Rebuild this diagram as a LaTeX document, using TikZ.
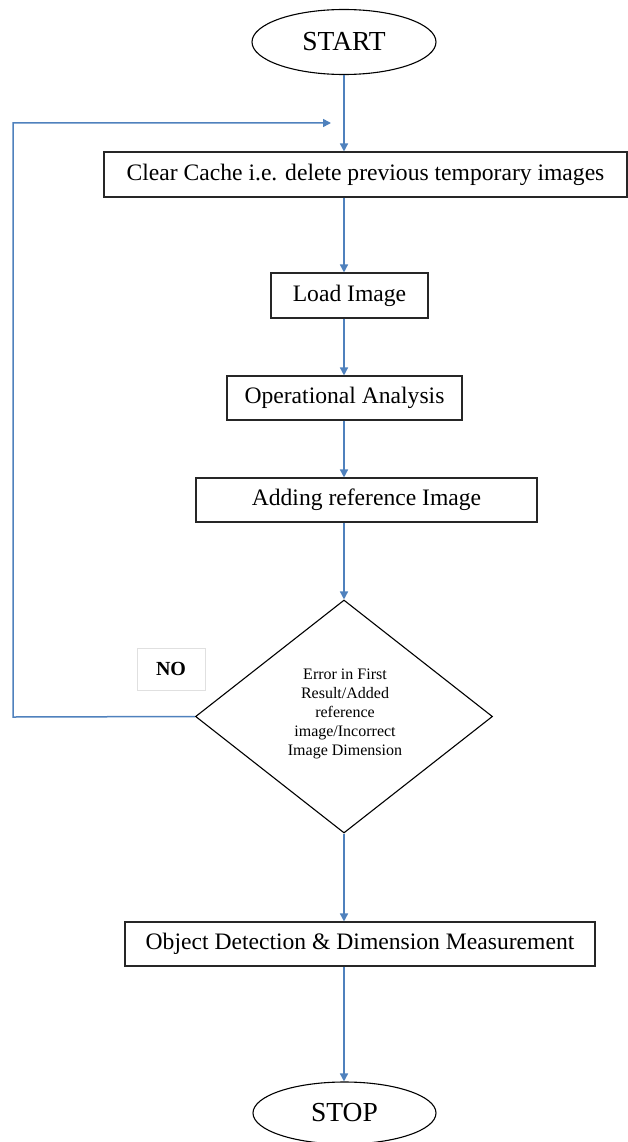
\documentclass[tikz,border=0pt]{standalone}
\usepackage{fontspec}
\setmainfont{Liberation Serif}
\usetikzlibrary{shapes.geometric,arrows.meta}
\definecolor{arrowblue}{HTML}{4F81BD}
\begin{document}
\begin{tikzpicture}[x=1pt,y=-1pt,
  procbox/.style={draw=black!85,line width=1.1pt,inner sep=0pt,font=\fontsize{23.6}{26}\selectfont},
  termnode/.style={draw=black,line width=1.1pt,ellipse,inner sep=0pt,font=\fontsize{27.5}{30}\selectfont},
  flow/.style={draw=arrowblue,line width=1.5pt,-{Triangle[length=8pt,width=8pt]}}]
\useasboundingbox (0,0) rectangle (628,1142);
\node[termnode,minimum width=184pt,minimum height=65pt] (start) at (344,42) {START};
\node[procbox,minimum width=523pt,minimum height=45pt] (clear) at (365.5,174.5) {Clear Cache i.e. delete previous temporary images};
\node[procbox,minimum width=157pt,minimum height=45pt] (load) at (349.5,295.5) {Load Image};
\node[procbox,minimum width=235pt,minimum height=44pt] (oper) at (344.5,398) {Operational Analysis};
\node[procbox,minimum width=341pt,minimum height=44pt] (adding) at (366.5,500) {Adding reference Image};
\node[draw=black,line width=1.1pt,diamond,aspect=1.275,minimum width=297pt,minimum height=233pt,inner sep=0pt] (dec) at (344,716.5) {};
\node[align=center,font=\fontsize{16}{19.2}\selectfont] (dectext) at (345,714) {Error in First\\Result/Added\\reference\\image/Incorrect\\Image Dimension};
\node[draw=black!12,line width=0.8pt,minimum width=68pt,minimum height=42pt,font=\bfseries\fontsize{20}{22}\selectfont] (no) at (171,669) {NO};
\node[procbox,minimum width=470pt,minimum height=44pt] (obj) at (360,944) {Object Detection \& Dimension Measurement};
\node[termnode,minimum width=183pt,minimum height=62pt] (stop) at (344.5,1113) {STOP};
\coordinate (c1) at (13,717);
\coordinate (c2) at (13,123);
\coordinate (c3) at (331,123);
\draw[flow] (start.south) -- (start.south |- clear.north);
\draw[flow] (clear.south -| start.south) -- (start.south |- load.north);
\draw[flow] (load.south -| start.south) -- (start.south |- oper.north);
\draw[flow] (oper.south -| start.south) -- (start.south |- adding.north);
\draw[flow] (adding.south -| start.south) -- (dec.north);
\draw[flow] (dec.south) -- (dec.south |- obj.north);
\draw[flow] (obj.south -| dec.south) -- (dec.south |- stop.north);
\draw[flow] (dec.west) -- (c1) -- (c2) -- (c3);
\end{tikzpicture}
\end{document}
